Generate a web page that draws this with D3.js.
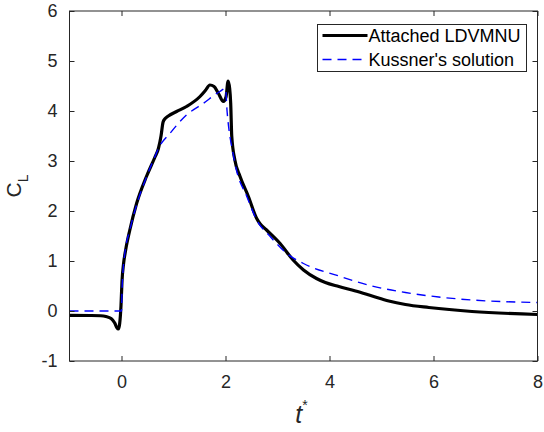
<!DOCTYPE html>
<html>
<head>
<meta charset="utf-8">
<script src="https://cdn.jsdelivr.net/npm/d3@7"></script>
<style>
  html, body { margin: 0; padding: 0; background: #fff; }
  svg { display: block; font-family: "Liberation Sans", Arial, Helvetica, sans-serif; }
</style>
</head>
<body>
<svg id="chart" width="544" height="432"></svg>
<script>
// ---- data ----
const ldvmT  = [-1, -0.6, -0.4, -0.3, -0.2, -0.13, -0.09, -0.06, -0.035, -0.01, 0.01, 0.04, 0.08, 0.16, 0.29, 0.48, 0.64, 0.71, 0.76, 0.80, 0.84, 0.90, 1.06, 1.25, 1.51, 1.62, 1.70, 1.78, 1.86, 1.96, 2.01, 2.05, 2.08, 2.10, 2.12, 2.18, 2.28, 2.44, 2.6, 2.66, 2.79, 3.05, 3.30, 3.5, 3.75, 3.92, 4.18, 4.5, 4.82, 5.14, 5.46, 5.91, 6.74, 8];
const ldvmCL = [-0.087, -0.09, -0.095, -0.11, -0.15, -0.24, -0.33, -0.36, -0.25, 0.1, 0.6, 0.95, 1.22, 1.62, 2.15, 2.69, 3.07, 3.25, 3.5, 3.78, 3.85, 3.9, 3.99, 4.09, 4.29, 4.42, 4.52, 4.49, 4.36, 4.19, 4.28, 4.6, 4.45, 4.15, 3.5, 3.02, 2.69, 2.29, 1.85, 1.75, 1.62, 1.35, 1.02, 0.82, 0.65, 0.57, 0.49, 0.40, 0.30, 0.20, 0.13, 0.07, -0.01, -0.07];

const kussT  = [-1, 0, 0.01, 0.03, 0.07, 0.16, 0.29, 0.48, 0.64, 0.71, 0.93, 1.25, 1.57, 1.89, 2.0, 2.03, 2.07, 2.12, 2.21, 2.41, 2.6, 2.86, 3.18, 3.5, 4.18, 4.82, 5.46, 6.1, 6.74, 8];
const kussCL = [0, 0, 0.4, 0.8, 1.2, 1.62, 2.12, 2.68, 3.08, 3.25, 3.55, 3.92, 4.15, 4.39, 4.45, 4.0, 3.6, 3.29, 2.82, 2.29, 1.82, 1.49, 1.15, 0.95, 0.70, 0.5, 0.37, 0.28, 0.22, 0.17];

const xTicks = [0, 2, 4, 6, 8];
const yTicks = [-1, 0, 1, 2, 3, 4, 5, 6];
const seriesNames = ["Attached LDVMNU", "Kussner's solution"];

// ---- layout ----
const L = 69.5, R = 537.5, T = 11, B = 361;
const svg = d3.select("#chart");
const x = d3.scaleLinear().domain([-1, 8]).range([L, R]);
const y = d3.scaleLinear().domain([-1, 6]).range([B, T]);
const axisColor = "#262626";

// lines
const clipId = "plotclip";
svg.append("clipPath").attr("id", clipId).append("rect")
  .attr("x", L).attr("y", T).attr("width", R - L).attr("height", B - T);

const line = d3.line().x(d => x(d[0])).y(d => y(d[1])).curve(d3.curveMonotoneX);
const ldvm = ldvmT.map((t, i) => [t, ldvmCL[i]]);
const kuss = kussT.map((t, i) => [t, kussCL[i]]);

const g = svg.append("g").attr("clip-path", `url(#${clipId})`);
g.append("path").datum(ldvm).attr("d", line)
  .attr("fill", "none").attr("stroke", "#000").attr("stroke-width", 3.2)
  .attr("stroke-linejoin", "round").attr("stroke-linecap", "round");
g.append("path").datum(kuss).attr("d", line)
  .attr("fill", "none").attr("stroke", "#0000ff").attr("stroke-width", 1.4)
  .attr("stroke-dasharray", "9,6");

// axes (MATLAB box with inward ticks)
const fs = 18;
const axB = d3.axisBottom(x).tickValues(xTicks).tickSize(-5).tickPadding(14).tickFormat(d3.format("d"));
const axT = d3.axisTop(x).tickValues(xTicks).tickSize(-5).tickFormat("");
const axLft = d3.axisLeft(y).tickValues(yTicks).tickSize(-5).tickPadding(12).tickFormat(d => d < 0 ? "-" + Math.abs(d) : d);
const axRt = d3.axisRight(y).tickValues(yTicks).tickSize(-5).tickFormat("");

function style(sel) {
  sel.select(".domain").attr("stroke", axisColor).attr("stroke-width", 1);
  sel.selectAll(".tick line").attr("stroke", axisColor).attr("stroke-width", 1);
  sel.selectAll(".tick text").attr("fill", axisColor).style("font-size", fs + "px")
    .style("font-family", "'Liberation Sans', Arial, sans-serif");
}
svg.append("g").attr("transform", `translate(0,${B})`).call(axB).call(style);
svg.append("g").attr("transform", `translate(0,${T})`).call(axT).call(style);
svg.append("g").attr("transform", `translate(${L},0)`).call(axLft).call(style);
svg.append("g").attr("transform", `translate(${R},0)`).call(axRt).call(style);
svg.selectAll(".domain").attr("d", null);
svg.append("rect").attr("x", L).attr("y", T).attr("width", R - L).attr("height", B - T)
  .attr("fill", "none").attr("stroke", axisColor).attr("stroke-width", 1);

// y label C_L
const yl = svg.append("text")
  .attr("transform", `translate(21,186) rotate(-90)`)
  .attr("text-anchor", "middle").attr("fill", axisColor)
  .style("font-size", "21px");
yl.append("tspan").text("C");
yl.append("tspan").attr("dy", 7).style("font-size", "14px").text("L");

// x label t*
const xl = svg.append("text")
  .attr("x", (L + R) / 2 - 2).attr("y", 423)
  .attr("text-anchor", "middle").attr("fill", axisColor)
  .style("font-size", "25px");
xl.append("tspan").style("font-style", "italic").text("t");
xl.append("tspan").attr("dy", -13).style("font-size", "14px").text("*");

// legend
const lg = svg.append("g");
lg.append("rect").attr("x", 317.5).attr("y", 24.5).attr("width", 209).attr("height", 47)
  .attr("fill", "#fff").attr("stroke", axisColor).attr("stroke-width", 1);
const rows = [
  { name: seriesNames[0], color: "#000", w: 3.2, dash: null, y: 35.5 },
  { name: seriesNames[1], color: "#0000ff", w: 1.4, dash: "9,6", y: 59.5 }
];
rows.forEach(r => {
  lg.append("line").attr("x1", 322.5).attr("x2", 367.5).attr("y1", r.y).attr("y2", r.y)
    .attr("stroke", r.color).attr("stroke-width", r.w).attr("stroke-dasharray", r.dash);
  lg.append("text").attr("x", 368.5).attr("y", r.y + 6.5).attr("fill", "#000")
    .style("font-size", "18px").text(r.name);
});
</script>
</body>
</html>
